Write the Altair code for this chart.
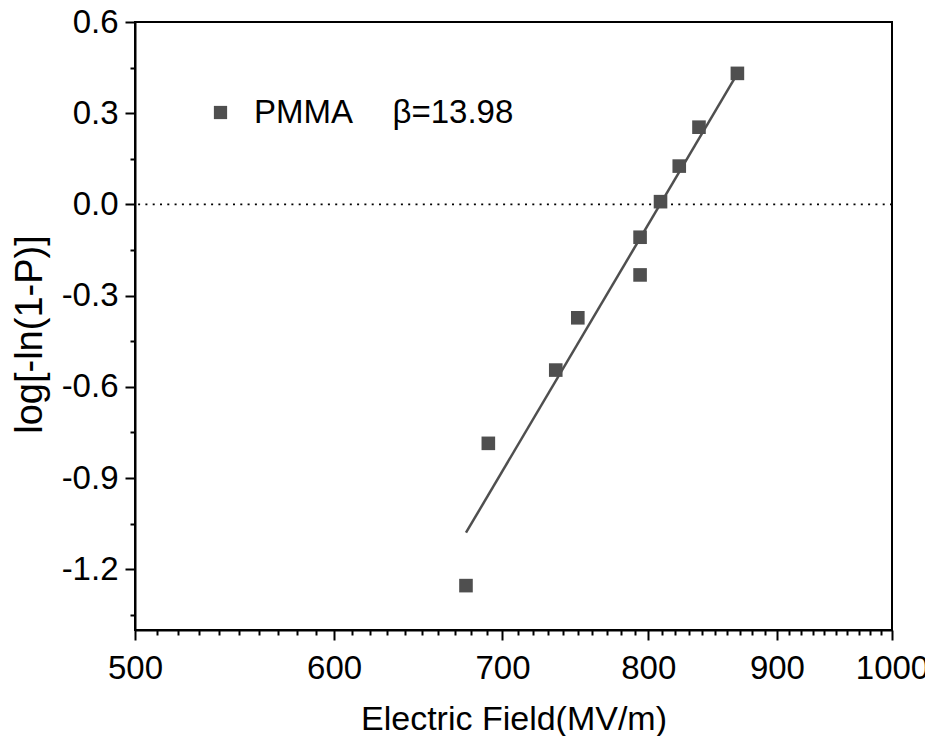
import altair as alt
import pandas as pd

# ---- data ----
field = [677, 691, 735, 750, 794, 794, 809, 823, 838, 868]
weibull = [-1.254, -0.786, -0.545, -0.373, -0.232, -0.108, 0.009, 0.126, 0.254, 0.431]
fit_field = [677, 868]
fit_weibull = [-1.08, 0.43]
series_name = "PMMA"
beta_label = "β=13.98"
zero_line = [0.0]

x_major = [500, 600, 700, 800, 900, 1000]
x_ticks = list(range(500, 1001, 10))
y_major = [0.6, 0.3, 0, -0.3, -0.6, -0.9, -1.2]
y_minor = [0.45, 0.15, -0.15, -0.45, -0.75, -1.05, -1.35]

pts = pd.DataFrame({"E": field, "W": weibull, "s": [series_name] * len(field)})
fit = pd.DataFrame({"E": fit_field, "W": fit_weibull})
zero = pd.DataFrame({"z": zero_line})

FONT = "Liberation Sans"
FS = 33
GRAY = "#4f4f4f"

y_major_js = "[" + ",".join(str(v) for v in y_major) + "]"
x_major_js = "[" + ",".join(str(v) for v in x_major) + "]"

x_scale = alt.Scale(type="log", domain=[500, 1000], nice=False)
y_scale = alt.Scale(domain=[-1.4, 0.6], nice=False, zero=False)

x_axis = alt.Axis(
    title="Electric Field(MV/m)",
    values=x_ticks,
    labelExpr=f"indexof({x_major_js}, datum.value) >= 0 ? '' + datum.value : ''",
    tickSize={"condition": {"test": f"indexof({x_major_js}, datum.value) >= 0", "value": 10}, "value": 5},
    labelOverlap=False,
    labelFlush=False,
    labelBound=False,
    labelPadding=12,
    titleFontSize=34,
    titleBaseline="alphabetic",
    titleY=99,
    grid=False,
)
y_axis = alt.Axis(
    title="log[-ln(1-P)]",
    values=y_major + y_minor,
    labelExpr=f"indexof({y_major_js}, datum.value) >= 0 ? replace(format(datum.value, '.1f'), '\u2212', '-') : ''",
    tickSize={"condition": {"test": f"indexof({y_major_js}, datum.value) >= 0", "value": 10}, "value": 5},
    labelOverlap=False,
    labelFlush=False,
    labelBound=False,
    labelPadding=7,
    titlePadding=12,
    titleFontSize=38,
    titleY=312,
    grid=False,
)

zero_rule = alt.Chart(zero).mark_rule(
    color="black", strokeDash=[2, 5.3], strokeWidth=1.8
).encode(y=alt.Y("z:Q", scale=y_scale, axis=y_axis))

fit_line = alt.Chart(fit).mark_line(color=GRAY, strokeWidth=2.5, clip=True).encode(
    x=alt.X("E:Q", scale=x_scale, axis=x_axis),
    y=alt.Y("W:Q", scale=y_scale, axis=y_axis),
)

points = alt.Chart(pts).mark_square(size=185, opacity=1, clip=True).encode(
    x=alt.X("E:Q", scale=x_scale, axis=x_axis),
    y=alt.Y("W:Q", scale=y_scale, axis=y_axis),
    color=alt.Color(
        "s:N",
        scale=alt.Scale(domain=[series_name], range=[GRAY]),
        legend=alt.Legend(
            orient="none",
            legendX=69,
            legendY=74,
            title=None,
            padding=0,
            symbolType="square",
            symbolSize=175,
            symbolStrokeWidth=0,
            labelFont=FONT,
            labelFontSize=FS,
            labelColor="black",
            labelOffset=17,
            labelLimit=0,
            labelExpr=f"datum.label + '\u00a0\u00a0\u00a0\u00a0\u200a{beta_label}'",
        ),
    ),
)

chart = (
    alt.layer(zero_rule, fit_line, points)
    .properties(
        width=757,
        height=608,
        padding={"left": 127, "top": 14, "right": 33, "bottom": 106},
        autosize=alt.AutoSizeParams(type="none"),
        background="white",
    )
    .configure_view(stroke="black", strokeWidth=2)
    .configure_axis(
        labelFont=FONT,
        labelFontSize=FS,
        labelColor="black",
        titleFont=FONT,
        titleFontWeight="normal",
        titleColor="black",
        domainColor="black",
        domainWidth=2,
        tickColor="black",
        tickWidth=2,
    )
)

chart.save("out.html", embed_options={"renderer": "svg", "actions": False})
